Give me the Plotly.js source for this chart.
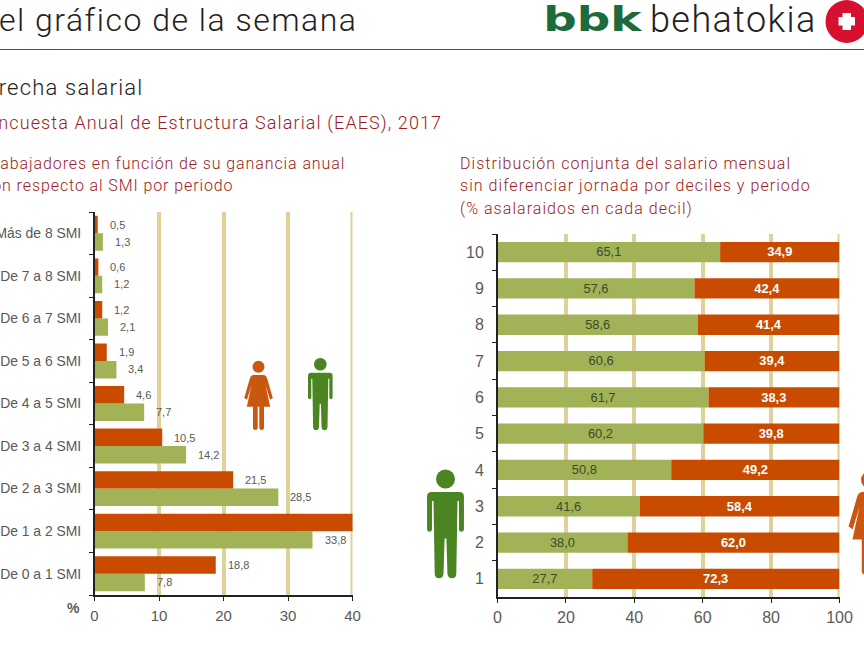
<!DOCTYPE html>
<html><head><meta charset="utf-8">
<script src="https://cdn.plot.ly/plotly-3.0.1.min.js"></script>
<style>html,body{margin:0;padding:0;background:#fff;overflow:hidden}#c{width:864px;height:648px}
.annotation[data-index="0"] text{letter-spacing:1.5px}
.annotation[data-index="1"] text{letter-spacing:1.2px}
.annotation[data-index="2"] text{letter-spacing:1.1px}
.annotation[data-index="3"] text,.annotation[data-index="4"] text{letter-spacing:.9px}
.annotation[data-index="5"] text,.annotation[data-index="6"] text,.annotation[data-index="7"] text{letter-spacing:1.05px}
.annotation[data-index="8"] text{transform-box:fill-box;transform-origin:center;transform:scaleX(1.42);-webkit-text-stroke:1px #1d6b3a}
.annotation[data-index="9"] text{letter-spacing:1.4px}
</style>
</head><body><div id="c"></div>
<script>
const rangos = ["De 0 a 1 SMI","De 1 a 2 SMI","De 2 a 3 SMI","De 3 a 4 SMI","De 4 a 5 SMI","De 5 a 6 SMI","De 6 a 7 SMI","De 7 a 8 SMI","Más de 8 SMI"];
const mujeresRango = [18.8,40.4,21.5,10.5,4.6,1.9,1.2,0.6,0.5];
const hombresRango = [7.8,33.8,28.5,14.2,7.7,3.4,2.1,1.2,1.3];
const deciles = ["1","2","3","4","5","6","7","8","9","10"];
const hombresDecil = [27.7,38.0,41.6,50.8,60.2,61.7,60.6,58.6,57.6,65.1];
const mujeresDecil = [72.3,62.0,58.4,49.2,39.8,38.3,39.4,41.4,42.4,34.9];

const ORANGE="#c84b00", OLIVE="#a2b257", TAN="#e0d09a", GREEN="#4a8522", WOMAN="#c9570f", GREY="#595959", RED="#9b1c24";
const W=864,H=648;
const px=x=>x/W, py=y=>1-y/H;
const fmt=v=>v.toFixed(1).replace('.',',');

const traces=[
 {type:'bar',orientation:'h',x:hombresRango,y:rangos,xaxis:'x',yaxis:'y',marker:{color:OLIVE},hoverinfo:'x+y'},
 {type:'bar',orientation:'h',x:mujeresRango,y:rangos,xaxis:'x',yaxis:'y',marker:{color:ORANGE},hoverinfo:'x+y'},
 {type:'bar',orientation:'h',x:hombresDecil,y:deciles,xaxis:'x2',yaxis:'y2',marker:{color:OLIVE},offsetgroup:'d',base:0,width:0.56,
  text:hombresDecil.map(fmt),textposition:'inside',insidetextanchor:'middle',textangle:0,insidetextfont:{family:'Liberation Sans',size:13.5,color:'#3c4a28'},hoverinfo:'x+y'},
 {type:'bar',orientation:'h',x:mujeresDecil,y:deciles,xaxis:'x2',yaxis:'y2',marker:{color:ORANGE},offsetgroup:'d',base:hombresDecil,width:0.56,
  text:mujeresDecil.map(fmt),textposition:'inside',insidetextanchor:'middle',textangle:0,insidetextfont:{family:'Liberation Sans',size:13.5,color:'#ffffff',weight:700},hoverinfo:'x+y'}
];

function note(text,x,y,size,color,anchor,extra){
 return Object.assign({xref:'paper',yref:'paper',x:px(x),y:py(y),text,showarrow:false,xanchor:anchor||'left',yanchor:'middle',
  font:{family:'Roboto',size,color,weight:300}, align:anchor||'left',borderpad:0,borderwidth:0},extra||{});
}
const annotations=[
 note("el gráfico de la semana",-1,20,32,"#222",'left'),
 note("Brecha salarial",143,87,22,"#222",'right'),
 note("Encuesta Anual de Estructura Salarial (EAES), 2017",442,123,18,RED,'right'),
 note("Trabajadores en función de su ganancia anual",345,163,16,RED,'right'),
 note("con respecto al SMI por periodo",233,186,16,RED,'right'),
 note("Distribución conjunta del salario mensual",460,163,16,RED),
 note("sin diferenciar jornada por deciles y periodo",460,186,16,RED),
 note("(% asalaraidos en cada decil)",460,208,16,RED),
 note("bbk",558,19,33,"#1d6b3a",'left',{font:{family:'DejaVu Sans',size:33,color:"#1d6b3a",weight:700}}),
 note("behatokia",650,20,36,"#222",'left'),
 note("%",73,608,14,GREY,'center',{font:{family:'Liberation Sans',size:14,color:GREY,weight:700}})
];
rangos.forEach((c,i)=>{
 if(mujeresRango[i]<40) annotations.push({xref:'x',yref:'y',x:mujeresRango[i],y:c,text:fmt(mujeresRango[i]),showarrow:false,xanchor:'left',yanchor:'middle',xshift:10,yshift:8.5,font:{family:'Liberation Sans',size:11,color:GREY}});
 annotations.push({xref:'x',yref:'y',x:hombresRango[i],y:c,text:fmt(hombresRango[i]),showarrow:false,xanchor:'left',yanchor:'middle',xshift:10,yshift:-8.5,font:{family:'Liberation Sans',size:11,color:GREY}});
});

function poly(d,cx,cy,s){
 return d.map(seg=>seg[0]+' '+seg.slice(1).map((v,i)=> i%2==0 ? px(cx+v*s) : py(cy+v*s)).join(' ')).join(' ')+' Z';
}
const manPath=[['M',-12.3,3],['Q',-12.3,0,-9.3,0],['L',9.3,0],['Q',12.3,0,12.3,3],['L',12.3,24.5],['Q',12.3,26.5,10.6,26.5],['Q',9,26.5,9,24.5],['L',9,6],['L',8,6],['L',7.2,54.5],['Q',7,57.5,4.4,57.5],['Q',1.6,57.5,1.3,54.5],['L',0.6,31],['L',-0.6,31],['L',-1.3,54.5],['Q',-1.6,57.5,-4.4,57.5],['Q',-7,57.5,-7.2,54.5],['L',-8,6],['L',-9,6],['L',-9,24.5],['Q',-9,26.5,-10.6,26.5],['Q',-12.3,26.5,-12.3,24.5]];
const womanPath=[['M',-5,0],['L',5,0],['Q',7.5,0,8.5,3],['L',14.3,23],['L',11.5,24.8],['L',7,10],['L',11.7,31.7],['L',5.5,31.7],['L',5.5,53],['Q',5.3,55,3.3,55],['Q',1,55,0.8,53],['L',0.8,31.7],['L',-0.8,31.7],['L',-0.8,53],['Q',-1,55,-3.3,55],['Q',-5.3,55,-5.5,53],['L',-5.5,31.7],['L',-11.7,31.7],['L',-7,10],['L',-11.5,24.8],['L',-14.3,23],['L',-8.5,3],['Q',-7.5,0,-5,0]];
function person(path,color,cx,shoulderY,s,headY,r){
 return [
  {type:'path',xref:'paper',yref:'paper',path:poly(path,cx,shoulderY,s),fillcolor:color,line:{width:0},layer:'above'},
  {type:'circle',xref:'paper',yref:'paper',x0:px(cx-r),x1:px(cx+r),y0:py(headY+r),y1:py(headY-r),fillcolor:color,line:{width:0},layer:'above'}
 ];
}
const edgeGrid=(xref,yrefDomain,v)=>({type:'line',layer:'below',xref,yref:yrefDomain,x0:v,x1:v,y0:0,y1:1,line:{color:TAN,width:4}});
const shapes=[
 edgeGrid('x','y domain',40),
 edgeGrid('x2','y2 domain',100),
 {type:'line',xref:'paper',yref:'paper',x0:0,x1:1,y0:py(49.5),y1:py(49.5),line:{color:"#b5222e",width:1}},
 {type:'circle',xref:'paper',yref:'paper',x0:px(825.5),x1:px(868),y0:py(43),y1:py(0),fillcolor:"#d5112f",line:{width:0}},
 {type:'rect',xref:'paper',yref:'paper',x0:px(842.5),x1:px(851),y0:py(30),y1:py(13),fillcolor:"#fff",line:{width:0}},
 {type:'rect',xref:'paper',yref:'paper',x0:px(838.5),x1:px(855),y0:py(25.5),y1:py(17),fillcolor:"#fff",line:{width:0}},
 ...person(womanPath,WOMAN,258.5,375,1,366.7,6),
 ...person(manPath,GREEN,320.3,372.7,1,364.3,6.3),
 ...person(manPath,GREEN,445.5,492,1.5,479,9.5),
 ...person(womanPath,WOMAN,870,492,1.5,480,9)
];
const fnt=s=>({family:'Liberation Sans',size:s,color:GREY});
const layout={
 width:W,height:H,autosize:false,margin:{l:0,r:0,t:0,b:0,pad:0},paper_bgcolor:'#fff',plot_bgcolor:'#fff',showlegend:false,
 barmode:'group',bargap:0.18,bargroupgap:0,
 xaxis:{domain:[px(94.5),px(352.5)],range:[0,40],dtick:10,showgrid:true,gridcolor:TAN,gridwidth:4,zeroline:false,showline:true,linecolor:'#222',linewidth:1.5,ticks:'outside',ticklen:4,tickcolor:'#222',tickfont:fnt(15),ticklabelstandoff:2,anchor:'y',fixedrange:true},
 yaxis:{domain:[py(595),py(212)],type:'category',categoryorder:'array',categoryarray:rangos,showgrid:false,zeroline:false,showline:true,linecolor:'#222',linewidth:1.5,ticks:'outside',ticklen:4,tickcolor:'#222',tickson:'boundaries',tickfont:fnt(13.9),ticklabelstandoff:9,anchor:'x',fixedrange:true},
 xaxis2:{domain:[px(497.5),px(839.5)],range:[0,100],dtick:20,showgrid:true,gridcolor:TAN,gridwidth:4,zeroline:false,showline:true,linecolor:'#222',linewidth:1.5,ticks:'outside',ticklen:4,tickcolor:'#222',tickfont:fnt(16),ticklabelstandoff:1,anchor:'y2',fixedrange:true},
 yaxis2:{domain:[py(597),py(234)],type:'category',categoryorder:'array',categoryarray:deciles,showgrid:false,zeroline:false,showline:true,linecolor:'#222',linewidth:1.5,ticks:'outside',ticklen:4,tickcolor:'#222',tickson:'boundaries',tickfont:fnt(16),ticklabelstandoff:9,anchor:'x2',fixedrange:true},
 annotations,shapes
};
Plotly.newPlot('c',traces,layout,{displayModeBar:false,staticPlot:true});
</script></body></html>
